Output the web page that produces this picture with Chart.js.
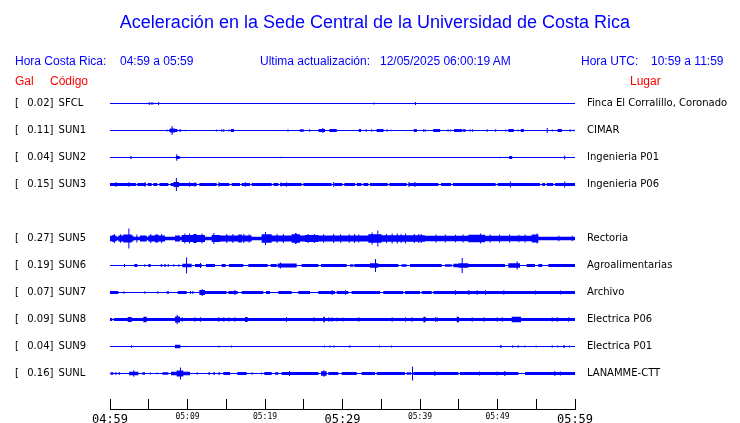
<!DOCTYPE html>
<html><head><meta charset="utf-8">
<script src="https://cdn.jsdelivr.net/npm/chart.js"></script>
<style>
html,body{margin:0;padding:0;background:#fff;}
#wrap{position:relative;width:740px;height:423px;overflow:hidden;background:#fff;}
canvas{position:absolute;left:0;top:0;}
.t{position:absolute;white-space:pre;font-family:"Liberation Sans",Arial,sans-serif;line-height:1;}
.b{color:#0000ff;font-size:12px;top:55px;}
.r{color:#ff0000;font-size:12px;top:75px;}
</style></head><body>
<div id="wrap">
<canvas id="c" width="740" height="423"></canvas>
<div class="t" style="left:0;width:750px;text-align:center;top:13px;font-size:18px;color:#0000ff">Aceleración en la Sede Central de la Universidad de Costa Rica</div>
<div class="t b" style="left:15px">Hora Costa Rica:</div>
<div class="t b" style="left:120px">04:59 a 05:59</div>
<div class="t b" style="left:260px">Ultima actualización:</div>
<div class="t b" style="left:380px">12/05/2025 06:00:19 AM</div>
<div class="t b" style="left:581px">Hora UTC:</div>
<div class="t b" style="left:651px">10:59 a 11:59</div>
<div class="t r" style="left:15px">Gal</div>
<div class="t r" style="left:50px">Código</div>
<div class="t r" style="left:630px">Lugar</div>
</div>
<script>
// ---- data ----
const STATIONS = ['SFCL','SUN1','SUN2','SUN3','SUN5','SUN6','SUN7','SUN8','SUN9','SUNL'];
const PEAK_GAL = [0.02,0.11,0.04,0.15,0.27,0.19,0.07,0.09,0.04,0.16];
const PLACES = ['Finca El Corralillo, Coronado','CIMAR','Ingenieria P01','Ingenieria P06','Rectoria','Agroalimentarias','Archivo','Electrica P06','Electrica P01','LANAMME-CTT'];
const ROWS = [0,1,2,3,5,6,7,8,9,10];
const X_TICKS = [0,5,10,15,20,25,30,35,40,45,50,55,60];          // minutes after 04:59
const TIME_LABELS = ['04:59','05:09','05:19','05:29','05:39','05:49','05:59']; // every 10 min
// trace envelope: half amplitude in display units, bursts [start,end,amp] or spikes [minute,amp]
const BASE = [0.5,0.5,0.5,1.6,1.8,0.5,0.5,1.6,0.5,0.5];
const SUN3_GAPS = [[3.35,3.53],[4.65,4.86],[5.38,5.59],[6.1,6.37],[7.53,7.83],[11.18,11.53],[13.76,13.98],[15.4,15.7],[16.77,16.99],[18.06,18.28],[20.86,21.08],[21.72,21.94],[24.73,24.95],[28.6,28.95],[29.98,30.24],[31.61,31.83],[32.47,32.69],[33.33,33.55],[35.83,36.04],[38.28,38.58],[42.37,42.71],[44.0,44.22],[49.76,50.02],[55.48,55.78],[56.13,56.34],[57.2,57.42]];
const SUN8_GAPS = [[0.3,0.5]];
const SFCL_B = [[5.0,1.5],[5.25,5.6,1.0],[6.2,1.5],[34.0,1.0],[39.35,1.5]];
const SUN1_B = [[7.3,1.0],[7.65,8.7,1.5],[7.75,8.4,2.0],[7.95,4.5],[8.95,9.15,1.3],[9.7,0.8],[13.7,1.0],[14.35,1.3],[14.6,1.3],[15.3,1.0],[15.6,16.0,1.5],[22.9,1.3],[24.5,25.0,1.3],[25.7,1.2],[26.9,27.75,1.5],[27.4,2.5],[28.3,29.25,1.5],[32.1,32.4,1.5],[33.0,1.2],[33.7,1.2],[34.4,35.3,1.5],[35.7,1.2],[36.2,0.8],[39.2,39.6,1.5],[40.4,1.2],[40.6,1.2],[41.7,42.6,1.5],[43.55,1.2],[43.9,1.0],[44.4,45.4,1.5],[45.5,45.9,1.2],[46.4,1.2],[46.7,1.2],[48.6,1.3],[49.7,1.3],[51.0,1.0],[51.4,52.1,1.5],[52.6,1.0],[53.0,53.4,1.5],[56.35,2.5],[57.0,1.0],[57.75,58.3,1.5],[59.3,1.2],[59.8,1.0]];
const SUN2_B = [[2.6,2.8,1.3],[8.5,9.0,1.5],[8.55,3.2],[22.0,0.8],[50.3,0.8],[51.5,51.9,1.5],[58.6,2.0]];
const SUN3_B = [[0.73,2.5],[2.37,2.3],[4.43,2.3],[8.2,8.9,2.5],[8.5,6.5],[10.2,2.2],[10.9,2.2],[14.0,2.2],[17.4,2.2],[22.0,2.0],[22.7,2.3],[28.8,2.5],[38.5,2.5],[39.27,2.5],[51.6,3.0],[58.6,3.0]];
const SUN5_B = [[0,0.86,2.8],[0.3,0.56,3.5],[1.08,3.01,3],[1.72,2.8,4],[2.37,10],[3.87,4.73,3],[4.95,7.1,3],[5.8,6.24,4],[8.39,9.03,3],[9.25,12.26,3.6],[10.75,11.18,4.5],[13.12,14.19,3.6],[13.33,5.5],[14.19,18.28,3],[16.56,16.99,4],[19.57,20.86,4.2],[20.0,6.5],[20.86,23.44,3],[23.44,24.52,4.2],[23.87,5.5],[24.52,33.33,3],[25.16,26.88,3.4],[32.04,4],[33.33,35.05,4.2],[33.76,6],[34.49,8],[35.05,40.65,3.3],[36.34,5],[38.06,5],[39.78,4.5],[40.65,46.67,2.8],[44.52,3.8],[46.24,46.67,3.8],[46.67,48.39,3.8],[47.74,5],[48.39,54.41,2.8],[52.69,3.8],[54.41,55.27,4],[55.05,5],[57.85,2.8],[59.57,2.8],
  [0.5,4.5],[1.3,4.2],[3.4,4],[5.2,4.5],[6.6,4.5],[9.6,5],[10.2,5],[11.8,5],[15.0,4.5],[15.8,4.5],[17.2,4.5],[17.9,4.2],[21.5,4.5],[22.3,4.5],[24.0,5],[25.5,4.5],[26.3,4.5],[27.5,4.2],[28.8,4.5],[29.7,4.2],[30.8,4.2],[31.5,4.5],[35.6,4.5],[37.0,5],[37.5,4.5],[39.2,4.5],[40.1,4.5],[42.0,4],[43.2,4],[45.5,4],[49.0,4],[50.2,4],[51.5,4],[53.5,4]];
const SUN6_B = [[1.81,1.5],[3.14,3.53,1.5],[4.43,1.2],[4.95,5.25,1.5],[6.54,6.75,1.3],[7.0,7.23,1.3],[7.44,7.61,1.3],[8.17,1.3],[8.82,1.3],[9.33,10.54,1.7],[9.81,8],[10.97,11.83,1.5],[11.61,2.5],[12.39,13.55,1.5],[14.41,14.92,1.5],[15.35,17.2,1.5],[17.85,20.34,1.5],[20.73,21.51,1.5],[21.63,24.09,2.0],[21.94,3],[24.73,26.88,1.5],[27.23,30.54,1.5],[30.97,31.4,1.3],[31.53,33.55,1.5],[33.55,34.62,2.2],[34.19,6.5],[34.62,37.2,1.5],[37.63,38.28,1.3],[38.71,42.8,1.5],[43.23,44.09,1.3],[44.3,44.95,1.8],[44.95,46.24,2.2],[45.38,7.5],[46.24,50.97,1.5],[51.4,52.9,2.3],[52.47,4],[53.76,54.84,1.5],[55.27,55.78,1.5],[56.56,60,1.5]];
const SUN7_B = [[0,1.08,1.5],[1.72,1.2],[4.43,1.2],[6.11,1.2],[7.31,7.61,1.2],[8.73,9.89,1.5],[10.32,1.5],[10.62,1.5],[11.53,12.26,2.5],[11.83,3.5],[12.26,15.05,1.5],[15.27,16.47,1.5],[16.04,2.5],[16.99,19.78,1.5],[20.13,20.65,1.5],[21.72,23.44,1.5],[24.3,25.81,1.5],[26.88,29.03,1.5],[28.6,2.5],[29.25,30.75,1.5],[30.32,2.2],[31.18,34.84,1.5],[35.27,37.85,1.5],[38.06,40.0,1.5],[40.22,41.51,1.5],[41.72,60,1.5],[44.52,2.2],[46.24,2.5],[47.31,2.2],[48.39,2.2],[50.75,2.2],[54.84,2.0],[58.06,2.0]];
const SUN8_B = [[2.28,2.8,2.5],[4.3,4.73,2.8],[8.39,9.03,3],[8.6,4.8],[9.25,2.3],[10.88,2.3],[11.61,2.3],[13.98,2.3],[14.62,2.3],[15.27,2.3],[16.04,2.3],[17.42,17.76,2.5],[22.71,2.5],[26.24,2.3],[27.53,27.74,2.8],[28.17,2.3],[28.6,2.3],[29.25,2],[29.98,2],[32.04,2.3],[36.34,2.3],[38.06,2.3],[38.92,2.3],[40.43,40.73,2.8],[41.94,2.3],[42.15,2.3],[44.73,45.03,2.8],[46.67,2.3],[48.17,2.3],[49.89,2.3],[50.54,2.3],[51.83,53.03,2.8],[56.99,2.3],[57.63,2.3],[59.14,2.3]];
const SUN9_B = [[2.71,1.3],[8.39,9.08,1.7],[13.98,1.0],[15.61,1.0],[27.61,0.9],[28.3,1.0],[28.82,0.9],[30.88,1.2],[34.71,0.9],[36.26,0.9],[50.32,50.54,1.2],[51.91,1.2],[52.6,1.2],[53.46,1.0],[54.92,1.0],[56.99,1.2],[57.72,0.9],[58.49,58.71,1.2],[59.23,0.9]];
const SUNL_B = [[0.09,0.43,1.3],[0.65,0.85,1.3],[1.1,1.3,1.3],[2.45,3.66,1.8],[3.01,3.2],[4.17,4.52,1.3],[5.16,1.0],[6.02,1.0],[6.75,7.53,1.3],[7.87,10.32,1.8],[8.6,9.46,3],[9.03,6],[11.18,1.3],[12.69,12.9,1.2],[13.33,13.55,1.2],[13.98,14.19,1.2],[14.62,15.48,1.5],[16.43,17.63,1.5],[18.28,1.2],[19.48,1.0],[19.91,20.86,1.5],[21.29,21.72,1.3],[22.15,26.88,1.5],[23.1,2.5],[27.23,27.96,2.3],[27.53,3.2],[28.17,29.46,1.5],[29.89,31.83,1.5],[32.47,34.19,1.5],[34.41,38.06,1.5],[38.28,38.84,1.3],[38.97,7],[39.14,44.95,1.5],[41.85,2.5],[45.16,48.39,1.5],[47.61,2],[48.39,52.69,1.5],[49.89,2],[50.88,2.5],[53.55,60,1.5],[57.33,2.5],[58.06,2]];
const BURSTS = [SFCL_B,SUN1_B,SUN2_B,SUN3_B,SUN5_B,SUN6_B,SUN7_B,SUN8_B,SUN9_B,SUNL_B];
const GAPS = [[],[],[],SUN3_GAPS,[],[],[],SUN8_GAPS,[],[]];

// ---- build ----
const THIN = 0.5, SPIKE_W = 0.13, UNITS_PER_ROW = 27, T_MAX = 60;
function envelope(base, gaps, bursts){
  const segs = bursts.map(b => b.length === 2 ? [b[0], b[0] + SPIKE_W, b[1]] : b);
  const set = new Set([0, T_MAX]);
  segs.forEach(s => { set.add(s[0]); set.add(s[1]); });
  gaps.forEach(g => { set.add(g[0]); set.add(g[1]); });
  const xs = [...set].filter(x => x >= 0 && x <= T_MAX).sort((a,b) => a-b);
  const out = [];
  for (let i = 0; i < xs.length - 1; i++) {
    const m = (xs[i] + xs[i+1]) / 2;
    let v = gaps.some(g => m >= g[0] && m < g[1]) ? THIN : base;
    segs.forEach(s => { if (m >= s[0] && m < s[1]) v = Math.max(v, s[2]); });
    if (!out.length || out[out.length-1][1] !== v) out.push([xs[i], v]);
  }
  out.push([T_MAX, out[out.length-1][1]]);
  return out;
}
const BLUE = '#0000ff';
const datasets = [];
STATIONS.forEach((s, i) => {
  const env = envelope(BASE[i], GAPS[i], BURSTS[i]);
  const row = ROWS[i];
  const common = {stepped: 'before', pointRadius: 0, borderWidth: 0, borderColor: 'rgba(0,0,0,0)', backgroundColor: BLUE, yAxisID: 'y'};
  datasets.push(Object.assign({label: s + ' up', data: env.map(([x, v]) => ({x, y: row - v / UNITS_PER_ROW})), fill: '+1'}, common));
  datasets.push(Object.assign({label: s + ' lo', data: env.map(([x, v]) => ({x, y: row + v / UNITS_PER_ROW})), fill: false}, common));
});
const Y_MIN = -0.5, Y_MAX = -0.5 + 319 / UNITS_PER_ROW;
const rowTicks = s => { s.ticks = ROWS.map(v => ({value: v})); };
const leftLabel = v => { const i = ROWS.indexOf(v); return i < 0 ? '' : '[  \u2009' + PEAK_GAL[i].toFixed(2) + '] \u2009' + STATIONS[i]; };
const rightLabel = v => { const i = ROWS.indexOf(v); return i < 0 ? '' : PLACES[i]; };
const labelFont = {family: 'DejaVu Sans', size: 10};

new Chart(document.getElementById('c'), {
  type: 'line',
  data: {datasets},
  options: {
    responsive: false, animation: false, devicePixelRatio: 1,
    layout: {padding: {left: 15, top: 90, right: 0, bottom: 0}},
    plugins: {legend: {display: false}, tooltip: {enabled: false}, title: {display: false}},
    scales: {
      x: {
        type: 'linear', min: 0, max: T_MAX, position: 'bottom',
        afterFit: s => { s.height = 14; },
        afterBuildTicks: s => { s.ticks = X_TICKS.map(v => ({value: v})); },
        grid: {drawOnChartArea: false, drawTicks: true, tickLength: -10, color: '#000', lineWidth: 1},
        border: {display: true, color: '#000', width: 1},
        ticks: {
          autoSkip: false, maxRotation: 0, minRotation: 0, padding: 13.5, color: '#000',
          font: ctx => ({family: 'DejaVu Sans Mono', size: (ctx.tick && ctx.tick.value % 30 === 0) ? 12 : 8}),
          callback: v => v % 10 === 0 ? TIME_LABELS[v / 10] : ''
        }
      },
      y: {
        type: 'linear', reverse: true, min: Y_MIN, max: Y_MAX, position: 'left',
        afterFit: s => { s.width = 95; },
        afterBuildTicks: rowTicks,
        grid: {display: false}, border: {display: false},
        ticks: {crossAlign: 'far', autoSkip: false, padding: 0, color: '#000', font: labelFont, callback: leftLabel}
      },
      y2: {
        type: 'linear', reverse: true, min: Y_MIN, max: Y_MAX, position: 'right',
        afterFit: s => { s.width = 165; },
        afterBuildTicks: rowTicks,
        grid: {display: true, drawOnChartArea: false, drawTicks: true, tickLength: 12, color: 'rgba(0,0,0,0)'},
        border: {display: false},
        ticks: {autoSkip: false, padding: 0, color: '#000', font: labelFont, callback: rightLabel}
      }
    }
  }
});
</script>
</body></html>
